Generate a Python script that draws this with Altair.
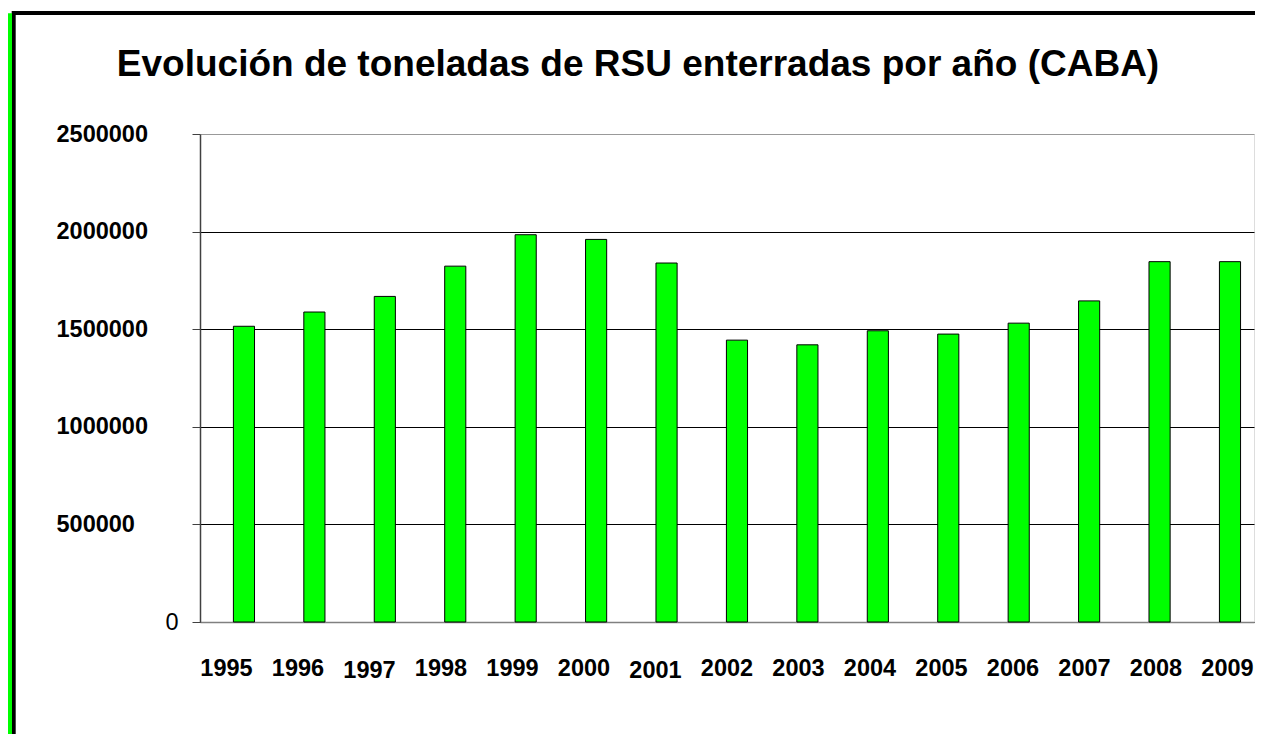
import altair as alt
import pandas as pd

# ---- data ----
years = ["1995", "1996", "1997", "1998", "1999", "2000", "2001", "2002",
         "2003", "2004", "2005", "2006", "2007", "2008", "2009"]
tons = [1515000, 1588000, 1668000, 1823000, 1984000, 1960000, 1839000, 1444000,
        1420000, 1492000, 1475000, 1531000, 1645000, 1846000, 1846000]
y_ticks = [0, 500000, 1000000, 1500000, 2000000, 2500000]
title_text = "Evolución de toneladas de RSU enterradas por año (CABA)"

df = pd.DataFrame({"year": years, "tons": tons})

FONT = "Liberation Sans"
W, H = 1054, 488

yscale = alt.Scale(domain=[0, 2500000], nice=False, zero=True)

bars = alt.Chart(df).mark_bar(fill="#00FF00", stroke="#000000", strokeWidth=1).encode(
    x=alt.X("year:N", sort=years, axis=None,
            scale=alt.Scale(type="band", paddingInner=0.7, paddingOuter=0.3325, align=0.713)),
    y=alt.Y("tons:Q", scale=yscale,
            axis=alt.Axis(
                values=y_ticks, title=None, format="d", grid=True,
                gridColor={"condition": {"test": "datum.value == 2500000", "value": "#999999"},
                           "value": "#000000"},
                gridWidth=1,
                domainColor="#404040", domainWidth=1.5,
                tickColor="#404040", tickSize=8, tickWidth=1,
                labelFont=FONT, labelFontSize=23.5, labelColor="#000000",
                labelFontWeight={"condition": {"test": "datum.value == 0", "value": "normal"},
                                 "value": "bold"},
                labelAlign="left", labelBaseline="middle",
                labelPadding={"condition": {"test": "datum.value == 0", "value": 27},
                              "value": 136},
            )),
)

labels = alt.Chart(df).mark_point(opacity=0).encode(
    x=alt.X("year:N", sort=years,
            scale=alt.Scale(type="band", paddingInner=0.259, paddingOuter=0),
            axis=alt.Axis(
                title=None, ticks=False, tickSize=0, grid=False,
                domainColor="#808080", domainWidth=1.5,
                labelFont=FONT, labelFontSize=23.5, labelFontWeight="bold",
                labelColor="#000000", labelAngle=0, labelBaseline="top",
                labelPadding={"condition": {"test": "datum.value == '1997' || datum.value == '2001'",
                                            "value": 36.5},
                              "value": 34},
            )),
    y=alt.value(H),
)

one = alt.Data(values=[{"k": 1}])
frame_top = alt.Chart(one).mark_rule(color="#000000", strokeWidth=4).encode(
    x=alt.value(-188), x2=alt.value(1056), y=alt.value(-121))
frame_left = alt.Chart(one).mark_rule(color="#000000", strokeWidth=4).encode(
    x=alt.value(-186.3), y=alt.value(-123), y2=alt.value(600))
frame_green = alt.Chart(one).mark_rule(color="#00FF00", strokeWidth=5).encode(
    x=alt.value(-190.5), y=alt.value(-120.7), y2=alt.value(600))

chart = alt.layer(frame_top, frame_left, frame_green, bars, labels).resolve_scale(
    x="independent"
).properties(
    width=W, height=H,
    autosize=alt.AutoSizeParams(type="none"),
    padding={"left": 192, "top": 126, "right": 1, "bottom": 112},
    title=alt.Title(title_text, font=FONT, fontSize=37, fontWeight="bold",
                    color="#000000", anchor="middle", frame="group",
                    dx=-89, offset=-104, baseline="alphabetic"),
).configure_view(stroke="#888888", strokeWidth=1.5).configure(background="#FFFFFF")

chart.save("out.html", embed_options={"renderer": "svg", "actions": False})
